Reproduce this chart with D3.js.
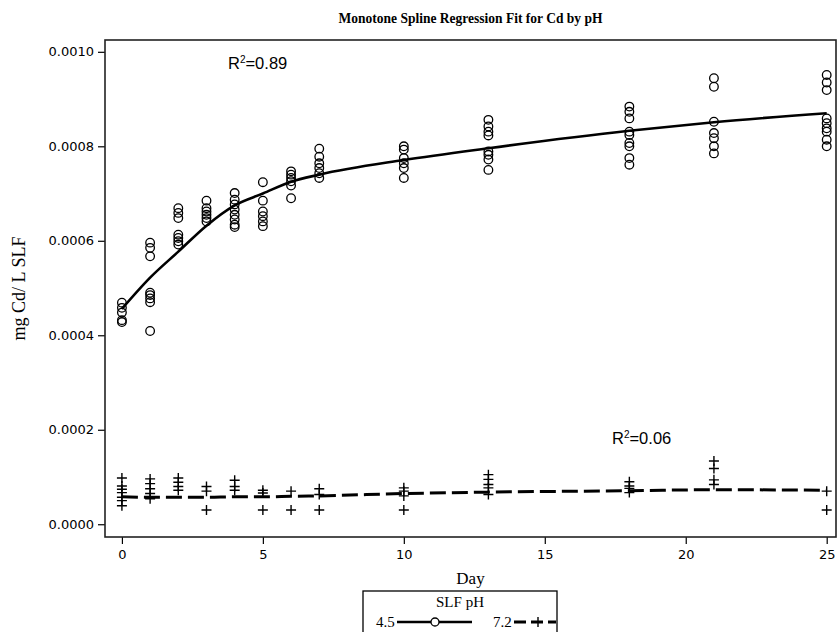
<!DOCTYPE html>
<meta charset="utf-8">
<style>
    body { margin: 0; background: #fff; }
    .serif { font-family: "Liberation Serif", "Times New Roman", serif; fill: #000; }
    .rlab { font: 16.5px "Liberation Sans", Arial, sans-serif; fill: #000; }
</style>
<svg width="839" height="632"></svg>
<script src="https://d3js.org/d3.v7.min.js"></script>
<script>
    // observations, pH 4.5 (circles)
    var days45 = [0, 1, 2, 3, 4, 5, 6, 7, 10, 13, 18, 21, 25];
    var obs45 = [
        [0.000469, 0.000458, 0.000448, 0.000432, 0.000428],
        [0.000596, 0.000585, 0.000567, 0.00049, 0.000485, 0.000478, 0.00047, 0.000409],
        [0.000669, 0.000659, 0.000648, 0.000613, 0.000606, 0.000599, 0.000592],
        [0.000685, 0.000669, 0.000662, 0.000655, 0.000648, 0.000641],
        [0.000701, 0.000687, 0.000677, 0.000666, 0.000655, 0.000645, 0.000634, 0.000629],
        [0.000724, 0.000685, 0.000662, 0.000652, 0.000641, 0.000631],
        [0.000747, 0.00074, 0.000733, 0.000726, 0.000717, 0.00069],
        [0.000795, 0.000778, 0.000764, 0.000754, 0.000743, 0.000733],
        [0.0008, 0.000793, 0.000775, 0.000764, 0.000754, 0.000733],
        [0.000856, 0.000842, 0.000831, 0.000823, 0.000789, 0.000782, 0.000772, 0.00075],
        [0.000884, 0.000873, 0.000859, 0.000831, 0.000824, 0.000807, 0.0008, 0.000775, 0.000761],
        [0.000944, 0.000926, 0.000852, 0.000828, 0.000817, 0.0008, 0.000785],
        [0.000951, 0.000935, 0.000919, 0.000859, 0.000849, 0.000838, 0.000831, 0.000814, 0.0008]
    ];
    var fit45 = [0.000456, 0.000522, 0.000577, 0.000632, 0.000675, 0.0007, 0.000725, 0.00074,
        0.000771, 0.000796, 0.000833, 0.000851, 0.00087];

    // observations, pH 7.2 (plus signs)
    var days72 = [0, 1, 2, 3, 4, 5, 6, 7, 10, 13, 18, 21, 25];
    var obs72 = [
        [0.000098, 0.000081, 0.000074, 0.000067, 0.000057, 0.00005, 0.000039],
        [0.000096, 0.000086, 0.000075, 0.000065, 0.000054],
        [0.000098, 0.000089, 0.00008, 0.000072],
        [0.00008, 0.00007, 0.00003],
        [0.000093, 0.00008, 0.000072],
        [0.000072, 0.000066, 0.00003],
        [0.00007, 0.00003],
        [0.000075, 0.000063, 0.00003],
        [0.000077, 0.00007, 0.00006, 0.00003],
        [0.000105, 0.000095, 0.000084, 0.000077, 0.000063],
        [0.00009, 0.000081, 0.000076, 0.000067],
        [0.000134, 0.000118, 0.000094, 0.000084],
        [0.00007, 0.00003]
    ];
    var fit72 = [0.000058, 0.000057, 0.000057, 0.000057, 0.000058, 0.000058, 0.000059, 0.00006,
        0.000065, 0.000068, 0.000071, 0.000073, 0.000072];

    var xTicks = [0, 5, 10, 15, 20, 25];
    var yTicks = [0, 0.0002, 0.0004, 0.0006, 0.0008, 0.001];

    var svg = d3.select("svg");
    var pl = 105, pr = 836, pt = 40, pb = 537;

    var x = d3.scaleLinear().domain([-0.6, 25.33]).range([pl, pr]);
    var y = d3.scaleLinear().domain([-0.000027, 0.001025]).range([pb, pt]);

    svg.append("text")
        .attr("class", "serif")
        .attr("x", (pl + pr) / 2)
        .attr("y", 23)
        .attr("text-anchor", "middle")
        .attr("textLength", 264)
        .attr("lengthAdjust", "spacingAndGlyphs")
        .style("font-size", "15.5px")
        .style("font-weight", "bold")
        .text("Monotone Spline Regression Fit for Cd by pH");

    function styleAxis(g) {
        g.select(".domain").remove();
        g.selectAll(".tick line").attr("stroke", "#000").attr("stroke-width", 1.2);
        g.selectAll(".tick text")
            .style("font-family", "'DejaVu Sans', sans-serif")
            .style("font-size", "13px")
            .attr("fill", "#000");
    }

    svg.append("g")
        .attr("transform", "translate(" + pl + ",0)")
        .call(d3.axisLeft(y).tickValues(yTicks).tickFormat(d3.format(".4f")).tickSize(7).tickPadding(4))
        .call(styleAxis);

    svg.append("g")
        .attr("transform", "translate(0," + pb + ")")
        .call(d3.axisBottom(x).tickValues(xTicks).tickSize(7).tickPadding(6))
        .call(styleAxis);

    svg.append("rect")
        .attr("x", pl).attr("y", pt)
        .attr("width", pr - pl).attr("height", pb - pt)
        .attr("fill", "none").attr("stroke", "#222").attr("stroke-width", 1.6);

    svg.append("text")
        .attr("class", "serif")
        .attr("transform", "translate(25," + (pt + pb) / 2 + ") rotate(-90)")
        .attr("text-anchor", "middle")
        .style("font-size", "18px")
        .text("mg Cd/ L SLF");

    svg.append("text")
        .attr("class", "serif")
        .attr("x", (pl + pr) / 2)
        .attr("y", 584)
        .attr("text-anchor", "middle")
        .style("font-size", "17px")
        .text("Day");

    var line = d3.line()
        .x(function (d) { return x(d[0]); })
        .y(function (d) { return y(d[1]); })
        .curve(d3.curveMonotoneX);

    var plot = svg.append("g");

    // circles for pH 4.5
    var pts45 = [];
    days45.forEach(function (d, i) {
        obs45[i].forEach(function (v) { pts45.push([d, v]); });
    });
    plot.selectAll("circle.p45")
        .data(pts45)
        .enter().append("circle")
        .attr("class", "p45")
        .attr("cx", function (d) { return x(d[0]); })
        .attr("cy", function (d) { return y(d[1]); })
        .attr("r", 4.3)
        .attr("fill", "none")
        .attr("stroke", "#000")
        .attr("stroke-width", 1.3);

    // plus signs for pH 7.2
    var pts72 = [];
    days72.forEach(function (d, i) {
        obs72[i].forEach(function (v) { pts72.push([d, v]); });
    });
    plot.selectAll("path.p72")
        .data(pts72)
        .enter().append("path")
        .attr("class", "p72")
        .attr("d", "M-5,0H5M0,-5V5")
        .attr("transform", function (d) { return "translate(" + x(d[0]) + "," + y(d[1]) + ")"; })
        .attr("stroke", "#000")
        .attr("stroke-width", 1.4);

    plot.append("path")
        .datum(days45.map(function (d, i) { return [d, fit45[i]]; }))
        .attr("d", line)
        .attr("fill", "none")
        .attr("stroke", "#000")
        .attr("stroke-width", 2.6);

    plot.append("path")
        .datum(days72.map(function (d, i) { return [d, fit72[i]]; }))
        .attr("d", line)
        .attr("fill", "none")
        .attr("stroke", "#000")
        .attr("stroke-width", 3)
        .attr("stroke-dasharray", "16,6");

    // R-squared labels
    function rlab(xp, yp, val) {
        var t = svg.append("text").attr("class", "rlab")
            .attr("x", xp).attr("y", yp);
        t.append("tspan").text("R");
        t.append("tspan").attr("dy", -6).style("font-size", "10px").text("2");
        t.append("tspan").attr("dy", 6).text("=" + val);
    }
    rlab(228, 69, "0.89");
    rlab(612, 444, "0.06");

    // legend
    var lg = svg.append("g");
    lg.append("rect")
        .attr("x", 363).attr("y", 591)
        .attr("width", 194).attr("height", 60)
        .attr("fill", "none").attr("stroke", "#000").attr("stroke-width", 1.3);
    lg.append("text").attr("class", "serif")
        .attr("x", 460).attr("y", 607)
        .attr("text-anchor", "middle")
        .style("font-size", "15px")
        .text("SLF pH");
    lg.append("text").attr("class", "serif")
        .attr("x", 376).attr("y", 627)
        .style("font-size", "15px")
        .text("4.5");
    lg.append("line")
        .attr("x1", 397).attr("x2", 472).attr("y1", 622).attr("y2", 622)
        .attr("stroke", "#000").attr("stroke-width", 2.6);
    lg.append("circle")
        .attr("cx", 435).attr("cy", 622).attr("r", 4)
        .attr("fill", "#fff").attr("stroke", "#000").attr("stroke-width", 1.3);
    lg.append("text").attr("class", "serif")
        .attr("x", 493).attr("y", 627)
        .style("font-size", "15px")
        .text("7.2");
    lg.append("line")
        .attr("x1", 514).attr("x2", 556).attr("y1", 622).attr("y2", 622)
        .attr("stroke", "#000").attr("stroke-width", 3)
        .attr("stroke-dasharray", "12,5");
    lg.append("path")
        .attr("d", "M-5,0H5M0,-5V5")
        .attr("transform", "translate(538,622)")
        .attr("stroke", "#000").attr("stroke-width", 1.4);
</script>
